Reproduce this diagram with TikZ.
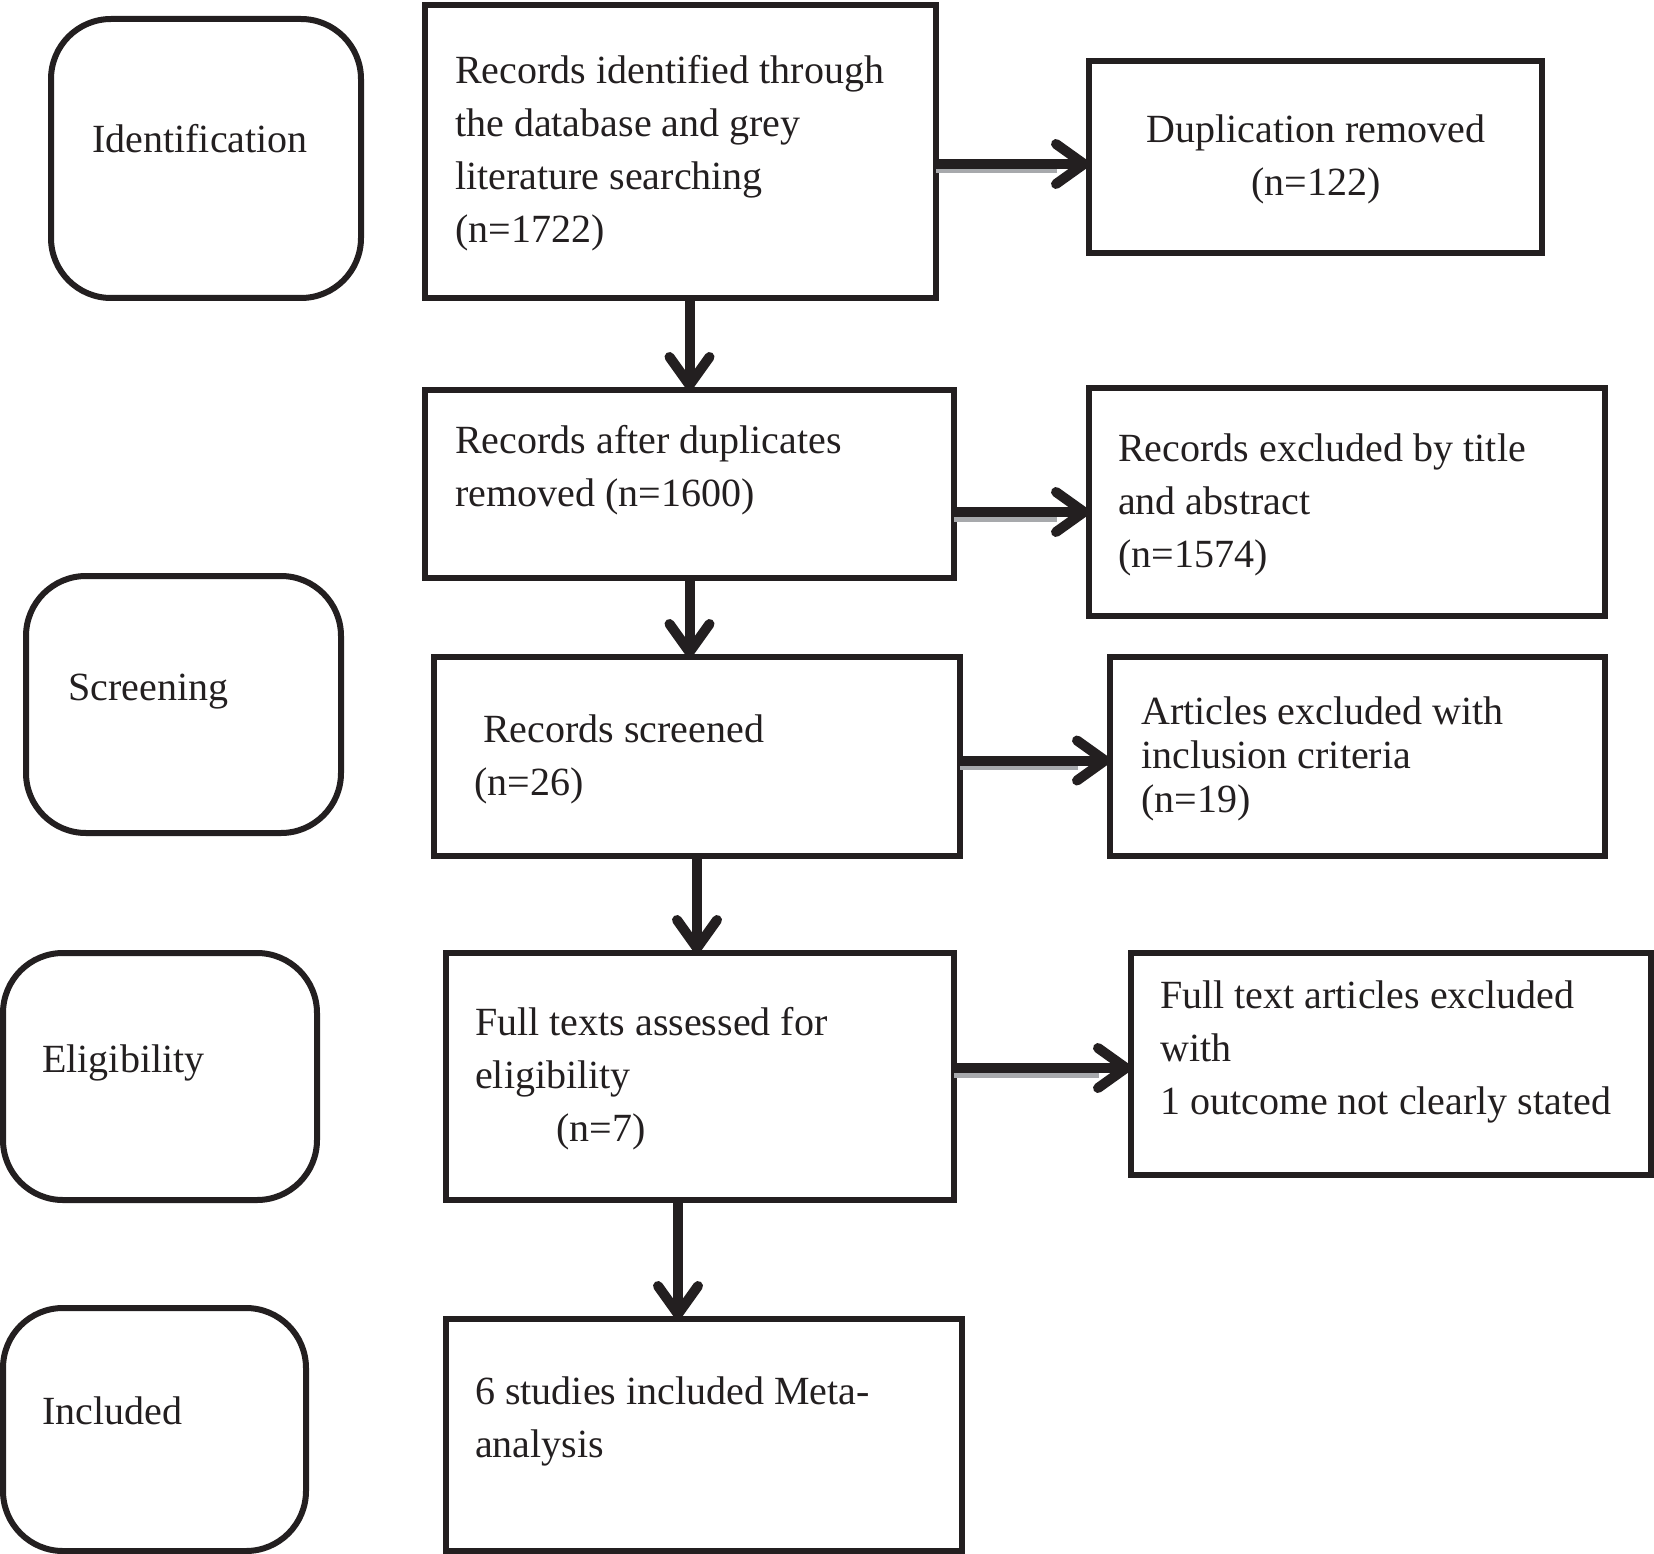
\documentclass[tikz,border=0pt]{standalone}
\usepackage{fontspec}
\setmainfont{Liberation Serif}
\usetikzlibrary{arrows.meta,calc}
\definecolor{ink}{HTML}{231F20}
\definecolor{shade}{HTML}{A7A9AC}
\begin{document}
\begin{tikzpicture}[x=1pt,y=-1pt,
  box/.style={draw=ink,line width=6pt,rectangle,inner sep=0pt,outer sep=0pt,anchor=north west},
  stage/.style={box,rounded corners=60pt},
  txt/.style={anchor=base west,inner sep=0pt,align=left,font=\fontsize{40}{53}\selectfont,text=ink},
  arr/.style={draw=ink,line width=10pt,-{Straight Barb[round,length=28pt,width=40pt]}},
  shd/.style={draw=shade,line width=5pt}]
\useasboundingbox (0,0) rectangle (1654,1554);
% stage boxes
\node[stage,minimum width=310pt,minimum height=279pt] (ident) at (51,19) {};
\node[stage,minimum width=315pt,minimum height=257pt] (screen) at (26,576) {};
\node[stage,minimum width=314pt,minimum height=247pt] (elig) at (3,953) {};
\node[stage,minimum width=303pt,minimum height=243pt] (incl) at (3,1308) {};
% main boxes
\node[box,minimum width=511pt,minimum height=293pt] (b1) at (425,5) {};
\node[box,minimum width=453pt,minimum height=192pt] (dup) at (1089,61) {};
\node[box,minimum width=529pt,minimum height=188pt] (b2) at (425,390) {};
\node[box,minimum width=516pt,minimum height=228pt] (recex) at (1089,388) {};
\node[box,minimum width=526pt,minimum height=199pt] (b3) at (434,657) {};
\node[box,minimum width=495pt,minimum height=199pt] (art) at (1110,657) {};
\node[box,minimum width=508pt,minimum height=247pt] (b4) at (446,953) {};
\node[box,minimum width=520pt,minimum height=222pt] (ftex) at (1131,953) {};
\node[box,minimum width=516pt,minimum height=232pt] (b5) at (446,1319) {};
% texts (multi-line nodes: base = baseline of last line)
\node[txt,anchor=base] (tident) at (200,153) {Identification};
\node[txt] (tscreen) at (68,700) {Screening};
\node[txt] (telig) at (42,1072) {Eligibility};
\node[txt] (tincl) at (42,1424) {Included};
\node[txt] (tb1) at (455,243) {Records identified through\\the database and grey\\literature searching\\(n=1722)};
\node[txt,anchor=base,align=center] (tdup) at (1316,196) {Duplication removed\\(n=122)};
\node[txt] (tb2) at (455,506) {Records after duplicates\\removed (n=1600)};
\node[txt] (trecex) at (1118,567) {Records excluded by title\\and abstract\\(n=1574)};
\node[txt] (tb3) at (474,795) {\hspace{9pt}Records screened\\(n=26)};
\node[txt,font=\fontsize{40}{44}\selectfont] (tart) at (1141,812) {Articles excluded with\\inclusion criteria\\(n=19)};
\node[txt] (tb4) at (475,1141) {Full texts assessed for\\eligibility\\\hspace{81pt}(n=7)};
\node[txt] (tftex) at (1160,1114) {Full text articles excluded\\with\\1 outcome not clearly stated};
\node[txt] (tb5) at (475,1457) {6 studies included Meta-\\analysis};
% horizontal arrows
\coordinate (h1) at ($(dup.west)+(0,7)$);
\coordinate (h2) at ($(recex.west)+(0,10)$);
\coordinate (h3) at ($(art.west)+(0,4)$);
\coordinate (h4) at ($(ftex.west)+(0,4)$);
\draw[shd] ($(b1.east |- h1)+(0,7)$) -- ($(h1)+(-32,7)$);
\draw[shd] ($(b2.east |- h2)+(0,7)$) -- ($(h2)+(-32,7)$);
\draw[shd] ($(b3.east |- h3)+(0,7)$) -- ($(h3)+(-32,7)$);
\draw[shd] ($(b4.east |- h4)+(0,7)$) -- ($(h4)+(-32,7)$);
\draw[arr] (b1.east |- h1) -- (h1);
\draw[arr] (b2.east |- h2) -- (h2);
\draw[arr] (b3.east |- h3) -- (h3);
\draw[arr] (b4.east |- h4) -- (h4);
% vertical arrows
\coordinate (v4) at ($(b5.north)+(-26,0)$);
\draw[arr] (b1.south -| b2.north) -- (b2.north);
\draw[arr] (b2.south) -- (b2.south |- b3.north);
\draw[arr] (b3.south) -- (b3.south |- b4.north);
\draw[arr] (b4.south -| v4) -- (v4);
\end{tikzpicture}
\end{document}
